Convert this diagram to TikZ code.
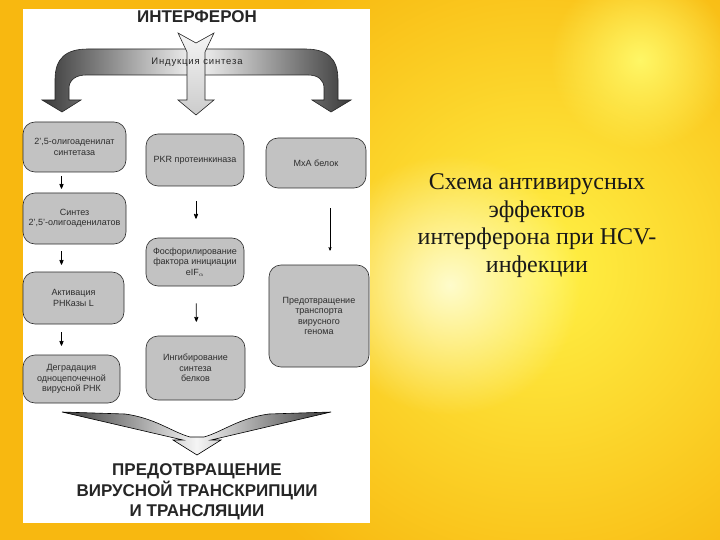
\documentclass[tikz,border=0pt]{standalone}
\usepackage{fontspec}
\setmainfont{Liberation Serif}
\setsansfont{Liberation Sans}
\newfontfamily\spacedsans[LetterSpace=9]{Liberation Sans}
\usetikzlibrary{arrows,positioning,calc,fadings}
\definecolor{bgbase}{RGB}{248,184,16}
\definecolor{bglight}{RGB}{255,242,70}
\definecolor{boxgray}{RGB}{194,194,194}
\definecolor{boxtext}{RGB}{45,45,45}
\tikzfading[name=glowfade, inner color=transparent!0, outer color=transparent!100]

\begin{document}
\begin{tikzpicture}[x=1pt,y=-1pt,>=stealth', semithick,
        box/.style={rectangle,rounded corners=12pt,draw=gray!35!black,fill=boxgray,text=boxtext,
          font=\sffamily\fontsize{9}{10.5}\selectfont,align=center,inner sep=1pt},
        link/.style={->,thick,black},
        heading/.style={font=\sffamily\bfseries\fontsize{17}{20.5}\selectfont,text=black!85,align=center},
        caption/.style={font=\fontsize{24}{27.7}\selectfont,text=black!90,align=center}]
        \useasboundingbox (0,0) rectangle (720,540);
        \clip (0,0) rectangle (720,540);
        % background
        \fill[bgbase] (0,0) rectangle (720,540);
        \shade[inner color=bglight, outer color=bgbase] (540,270) circle (360pt);
        \fill[yellow!20!white, path fading=glowfade] (450,285) circle (130pt);
        \fill[yellow!60!white, path fading=glowfade] (640,60) circle (90pt);
        \fill[white] (23,9) rectangle (370,523);
        % induction arrow
        \shade[draw=gray!30!black, left color=gray!45!black, right color=gray!45!black, middle color=gray!8]
          (62,112) -- (42,100) -- (55,100) -- (55,80) .. controls (55,58) and (66,49) .. (88,49)
          -- (305,49) .. controls (327,49) and (338,58) .. (338,80) -- (338,100) -- (351,100)
          -- (331,112) -- (312,100) -- (324,100) -- (324,88) .. controls (324,80) and (318,75) .. (308,75)
          -- (86,75) .. controls (76,75) and (69,80) .. (69,88) -- (69,100) -- (81,100) -- cycle;
        \shade[draw=gray!30!black, top color=gray!8, bottom color=gray!40]
          (178,33) -- (196,43) -- (214,33) -- (205,52) -- (205,100) -- (214,100) -- (196,115)
          -- (178,100) -- (187,100) -- (187,52) -- cycle;
        % outcome arrow
        \shade[draw=black, left color=gray!45!black, right color=gray!45!black, middle color=gray!8]
          (62,412) -- (125,414) .. controls (155,418) and (172,432) .. (190,437) -- (204,437)
          .. controls (222,432) and (239,418) .. (269,414) -- (331,412) -- (211,440) -- (221,440)
          -- (197,455) -- (173,440) -- (183,440) -- cycle;
        \node[heading] at (197,17) (ifn) {ИНТЕРФЕРОН};
        \node[font=\spacedsans\fontsize{9.5}{11}\selectfont,text=black!85] at (197,62) (induct) {Индукция синтеза};
        \node[heading] at (197,492) (result) {ПРЕДОТВРАЩЕНИЕ\\ВИРУСНОЙ ТРАНСКРИПЦИИ\\И ТРАНСЛЯЦИИ};
        % left column
        \node[box,minimum width=103pt,minimum height=50pt] at (74.5,147) (olig) {2',5-олигоаденилат\\синтетаза};
        \node[box,minimum width=103pt,minimum height=51pt] at (74.5,218.5) (synt) {Синтез\\2',5'-олигоаденилатов};
        \node[box,minimum width=101pt,minimum height=52pt] at (73.5,298) (rnase) {Активация\\РНКазы L};
        \node[box,minimum width=97pt,minimum height=48pt] at (71.5,379) (degr) {Деградация\\одноцепочечной\\вирусной РНК};
        % middle column
        \node[box,minimum width=98pt,minimum height=52pt] at (195,160) (pkr) {PKR протеинкиназа};
        \node[box,minimum width=98pt,minimum height=48pt] at (195,262) (phos) {Фосфорилирование\\фактора инициации\\eIF$_\alpha$};
        \node[box,minimum width=99pt,minimum height=64pt] at (195.5,368) (inhib) {Ингибирование\\синтеза\\белков};
        % right column
        \node[box,minimum width=100pt,minimum height=50pt] at (316,163) (mxa) {MxA белок};
        \node[box,minimum width=100pt,minimum height=102pt] at (319,316) (block) {Предотвращение\\транспорта\\вирусного\\генома};
        \draw[link,shorten <=4pt,shorten >=4pt] ([xshift=-13pt]olig.south) -- ([xshift=-13pt]synt.north);
        \draw[link,shorten <=7pt,shorten >=7pt] ([xshift=-13pt]synt.south) -- ([xshift=-12pt]rnase.north);
        \draw[link,shorten <=8pt,shorten >=9pt] ([xshift=-12pt]rnase.south) -- ([xshift=-10pt]degr.north);
        \draw[link,shorten <=15pt,shorten >=19pt] ([xshift=1pt]pkr.south) -- ([xshift=1pt]phos.north);
        \draw[link,shorten <=17pt,shorten >=14pt] ([xshift=1pt]phos.south) -- ([xshift=1pt]inhib.north);
        \draw[->,thin,shorten <=20pt,shorten >=14pt] ([xshift=14pt]mxa.south) -- ([xshift=11pt]block.north);
        \node[caption] at (537,225.5) (title) {Схема антивирусных\\эффектов\\интерферона при HCV-\\инфекции};
      \end{tikzpicture}
\end{document}
